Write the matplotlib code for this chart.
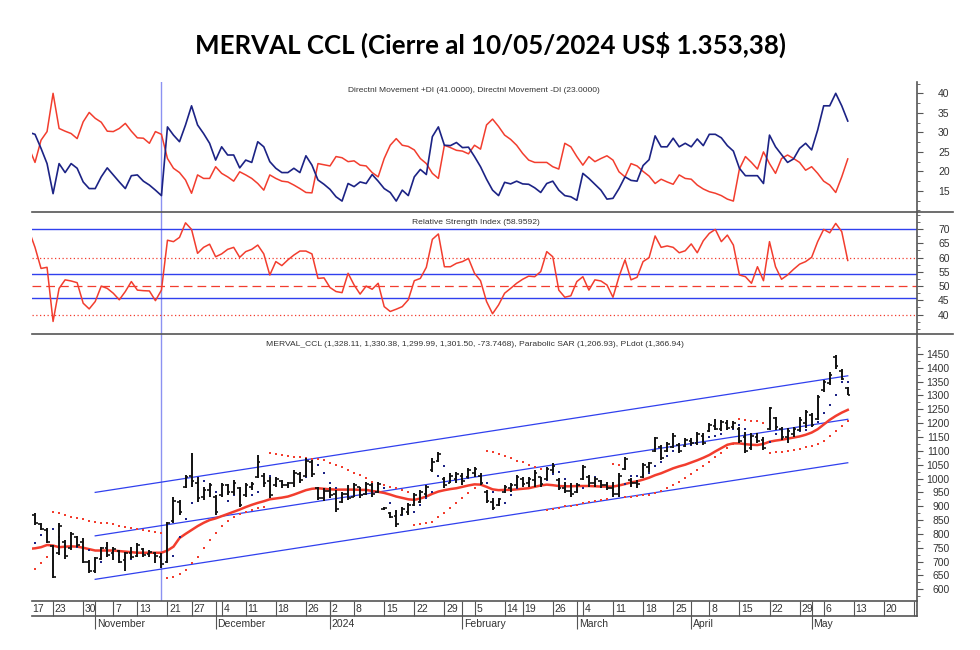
import matplotlib.pyplot as plt
import numpy as np
import pandas as pd
from matplotlib.lines import Line2D

plt.rcParams["font.family"] = ["Liberation Sans Narrow", "Liberation Sans", "DejaVu Sans"]

# ========= Data (one value per trading day, first = 2023-10-17) =========
HOLIDAYS = ["2023-11-06", "2023-11-20", "2023-12-08", "2023-12-25", "2024-01-01",
            "2024-02-12", "2024-02-13", "2024-03-28", "2024-03-29", "2024-04-01",
            "2024-04-02", "2024-05-01"]

DAY_TICKS = ["2023-10-17", "2023-10-23", "2023-10-30", "2023-11-07", "2023-11-13",
             "2023-11-21", "2023-11-27", "2023-12-04", "2023-12-11", "2023-12-18",
             "2023-12-26", "2024-01-02", "2024-01-08", "2024-01-15", "2024-01-22",
             "2024-01-29", "2024-02-05", "2024-02-14", "2024-02-19", "2024-02-26",
             "2024-03-04", "2024-03-11", "2024-03-18", "2024-03-25", "2024-04-08",
             "2024-04-15", "2024-04-22", "2024-04-29", "2024-05-06", "2024-05-13",
             "2024-05-20", "2024-05-27"]
MONTH_TICKS = ["2023-11-01", "2023-12-01", "2024-01-02", "2024-02-01",
               "2024-03-01", "2024-04-03", "2024-05-02"]
MONTH_LABELS = ["November", "December", "2024", "February", "March", "April", "May"]

OPEN = [
    880,
    870, 836, 815, 755, 730, 770, 750, 790, 770, 700,
    665, 710, 750, 730, 740, 705, 730, 720, 745, 728,
    730, 718, 700, 845, 915, 970, 1010, 985, 935, 960,
    935, 940, 975, 950, 965, 940, 970, 1005, 1010, 990,
    975, 990, 975, 985, 1015, 1010, 1060, 965, 930, 955,
    945, 915, 945, 935, 970, 945, 975, 950, 890, 875,
    865, 870, 880, 905, 915, 945, 1030, 1065, 1000, 985,
    1000, 1010, 1005, 1020, 1010, 950, 915, 905, 950, 965,
    975, 1000, 985, 995, 1005, 1000, 1030, 995, 965, 955,
    950, 1000, 1005, 985, 990, 975, 965, 945, 1035, 995,
    985, 1005, 1040, 1100, 1115, 1100, 1115, 1120, 1118, 1135,
    1130, 1155, 1172, 1190, 1178, 1200, 1185, 1180, 1150, 1110,
    1150, 1140, 1180, 1220, 1180, 1150, 1160, 1175, 1200, 1230,
    1215, 1318, 1345, 1440, 1390, 1328.11,
]
HIGH = [
    890,
    877, 838, 820, 760, 838, 778, 808, 793, 784, 706,
    718, 754, 772, 754, 742, 736, 754, 768, 748, 742,
    736, 730, 844, 935, 922, 1013, 1091, 1007, 971, 983,
    941, 983, 980, 995, 971, 983, 989, 1085, 1019, 1007,
    1007, 995, 989, 1031, 1025, 1073, 1067, 971, 965, 971,
    959, 953, 977, 983, 971, 989, 983, 989, 898, 880,
    886, 898, 911, 947, 959, 977, 1073, 1097, 1007, 1019,
    1025, 1019, 1037, 1043, 1019, 959, 929, 929, 977, 983,
    1013, 1007, 1007, 1031, 1007, 1043, 1055, 1001, 989, 983,
    983, 1049, 1013, 1007, 995, 989, 989, 1019, 1079, 1001,
    995, 1055, 1061, 1151, 1121, 1133, 1163, 1127, 1145, 1145,
    1169, 1163, 1199, 1214, 1212, 1212, 1209, 1187, 1169, 1163,
    1163, 1151, 1260, 1224, 1187, 1181, 1187, 1221, 1248, 1236,
    1302, 1356, 1386, 1446, 1395, 1330.38,
]
LOW = [
    860,
    832, 814, 766, 640, 724, 708, 742, 754, 694, 658,
    658, 706, 718, 706, 694, 667, 708, 718, 718, 718,
    694, 676, 694, 838, 868, 965, 971, 917, 923, 935,
    868, 935, 941, 941, 898, 935, 959, 1001, 971, 929,
    971, 965, 965, 971, 983, 1007, 1007, 923, 920, 929,
    880, 911, 923, 935, 929, 941, 935, 947, 886, 856,
    826, 868, 868, 899, 911, 935, 1025, 1061, 965, 983,
    983, 977, 1001, 1007, 977, 911, 887, 899, 947, 953,
    965, 971, 971, 971, 971, 995, 1019, 959, 947, 935,
    947, 995, 971, 971, 965, 959, 935, 935, 1031, 971,
    965, 1001, 1025, 1097, 1067, 1097, 1109, 1091, 1115, 1121,
    1121, 1121, 1169, 1175, 1170, 1175, 1178, 1127, 1091, 1103,
    1127, 1103, 1175, 1175, 1139, 1127, 1151, 1170, 1181, 1187,
    1212, 1314, 1338, 1395, 1356, 1299.99,
]
CLOSE = [
    872,
    840, 818, 770, 645, 830, 720, 800, 760, 700, 665,
    712, 748, 725, 745, 700, 730, 715, 760, 725, 735,
    720, 690, 840, 920, 880, 1005, 990, 930, 960, 975,
    880, 978, 950, 985, 905, 975, 980, 1060, 985, 940,
    1000, 975, 985, 1020, 995, 1065, 1015, 930, 955, 940,
    890, 945, 930, 975, 940, 980, 945, 980, 892, 860,
    835, 890, 905, 940, 950, 970, 1060, 1090, 975, 1010,
    1015, 990, 1030, 1035, 985, 920, 895, 925, 970, 975,
    1005, 980, 1000, 1020, 980, 1035, 1045, 965, 955, 945,
    975, 1040, 985, 1000, 975, 965, 945, 1010, 1070, 985,
    980, 1050, 1055, 1145, 1075, 1125, 1155, 1100, 1140, 1128,
    1160, 1130, 1192, 1180, 1205, 1182, 1200, 1135, 1100, 1155,
    1135, 1110, 1255, 1185, 1150, 1170, 1180, 1210, 1240, 1195,
    1295, 1350, 1375, 1405, 1360, 1301.50,
]
PSAR = [
    660,
    672, 694, 718, 880, 874, 868, 862, 856, 853, 848,
    844, 841, 838, 835, 830, 826, 823, 818, 814, 811,
    807, 805, 640, 643, 655, 670, 694, 718, 748, 778,
    802, 829, 848, 862, 872, 880, 886, 892, 897, 1094,
    1089, 1085, 1082, 1079, 1077, 1074, 1072, 1070, 1067, 1055,
    1049, 1041, 1031, 1021, 1012, 1001, 989, 980, 977, 971,
    965, 959, 953, 832, 836, 841, 844, 862, 874, 893,
    911, 929, 947, 965, 977, 1100, 1095, 1088, 1082, 1073,
    1065, 1058, 1049, 1041, 1033, 887, 890, 895, 899, 902,
    906, 911, 914, 919, 923, 927, 1051, 1049, 935, 935,
    937, 940, 942, 947, 955, 965, 977, 989, 1001, 1017,
    1031, 1045, 1061, 1077, 1091, 1109, 1124, 1214, 1212, 1209,
    1206, 1202, 1094, 1095, 1097, 1101, 1103, 1108, 1113, 1118,
    1125, 1137, 1154, 1173, 1188, 1209,
]
PLDOT = [
    800,
    766, 795, 812, 818, 790, 760, 748, 752, 770, 742,
    704, 700, 720, 735, 725, 716, 710, 722, 726, 730,
    728, 722, 710, 720, 790, 855, 912, 960, 990, 968,
    950, 940, 920, 940, 955, 955, 940, 950, 985, 1010,
    1000, 985, 978, 978, 990, 1005, 1030, 1050, 1020, 985,
    965, 941, 940, 953, 959, 960, 970, 965, 965, 911,
    880, 870, 875, 880, 905, 930, 950, 1010, 1045, 1010,
    1005, 1000, 1003, 1015, 1010, 985, 950, 915, 912, 940,
    965, 985, 988, 992, 990, 995, 1015, 1025, 1000, 975,
    960, 965, 990, 1005, 990, 980, 975, 970, 980, 1010,
    1010, 1013, 1020, 1045, 1060, 1080, 1100, 1108, 1120, 1120,
    1130, 1138, 1150, 1155, 1160, 1178, 1180, 1195, 1180, 1150,
    1138, 1138, 1132, 1160, 1170, 1176, 1175, 1170, 1175, 1195,
    1205, 1236, 1266, 1302, 1348, 1350,
]
MOV_AVG = [
    746,
    748, 752, 760, 758, 752, 754, 755, 754, 750, 745,
    740, 740, 740, 740, 738, 736, 734, 732, 732, 732,
    732, 732, 740, 754, 785, 800, 814, 828, 840, 850,
    856, 864, 872, 880, 888, 897, 905, 912, 918, 925,
    928, 931, 935, 942, 950, 958, 963, 965, 963, 961,
    960, 960, 960, 960, 959, 959, 955, 952, 948, 942,
    935, 930, 925, 923, 928, 935, 945, 953, 958, 962,
    965, 970, 975, 979, 978, 970, 961, 958, 959, 959,
    961, 963, 965, 970, 975, 978, 976, 973, 972, 972,
    973, 973, 973, 972, 971, 971, 971, 975, 980, 986,
    990, 996, 1003, 1012, 1019, 1028, 1037, 1044, 1050, 1058,
    1066, 1075, 1085, 1098, 1110, 1122, 1127, 1127, 1124, 1122,
    1121, 1125, 1133, 1137, 1140, 1144, 1148, 1152, 1158, 1166,
    1178, 1195, 1212, 1226, 1238, 1248,
]
PLUS_DI = [
    30.0,
    29.5, 25.9, 22.0, 14.3, 22.0, 19.7, 22.0, 20.8, 17.3, 15.6,
    15.6, 18.6, 20.9, 19.1, 17.3, 15.6, 18.9, 19.1, 17.5, 16.5,
    15.2, 13.8, 31.4, 29.3, 27.6, 31.9, 36.8, 31.9, 29.7, 27.2,
    22.9, 26.3, 24.2, 24.2, 20.9, 22.9, 22.3, 27.6, 26.3, 22.5,
    20.8, 19.7, 19.7, 20.8, 19.7, 24.0, 21.6, 17.8, 16.7, 15.4,
    13.5, 12.4, 16.9, 16.1, 17.3, 16.9, 19.2, 17.5, 15.6, 14.6,
    12.4, 15.2, 13.8, 18.6, 20.5, 19.2, 28.9, 31.4, 26.7, 26.6,
    27.4, 26.1, 26.2, 23.8, 21.2, 18.0, 15.2, 13.8, 17.2, 16.8,
    17.5, 16.8, 16.7, 15.8, 14.6, 16.9, 17.5, 15.2, 13.8, 13.5,
    12.6, 19.5, 18.2, 16.7, 15.2, 12.9, 13.1, 15.6, 18.6, 17.7,
    17.5, 21.5, 23.0, 29.1, 26.3, 26.3, 28.5, 26.3, 27.2, 26.3,
    28.3, 26.6, 29.5, 29.5, 28.6, 26.6, 25.2, 20.8, 18.9, 18.9,
    18.9, 16.9, 29.3, 26.3, 24.3, 22.3, 23.2, 25.9, 27.2, 25.5,
    30.6, 36.8, 36.8, 40.0, 36.8, 32.9,
]
MINUS_DI = [
    26.0,
    22.3, 28.0, 30.2, 40.0, 31.0, 30.3, 29.7, 28.4, 32.7, 35.1,
    33.6, 32.6, 30.3, 30.2, 31.0, 32.3, 30.3, 28.6, 28.5, 27.2,
    30.2, 29.5, 23.3, 20.8, 19.7, 17.8, 14.4, 19.1, 18.2, 18.2,
    21.2, 19.5, 18.6, 17.5, 19.9, 19.1, 18.2, 16.9, 15.2, 19.1,
    18.2, 17.5, 17.3, 16.5, 15.6, 14.6, 14.5, 22.0, 21.7, 21.4,
    23.8, 23.5, 22.5, 22.7, 21.6, 21.4, 19.7, 18.6, 23.3, 26.7,
    28.4, 26.7, 26.4, 25.5, 23.3, 22.0, 19.5, 18.2, 26.7, 26.1,
    25.4, 25.2, 24.5, 26.7, 25.7, 31.9, 33.4, 31.5, 29.3, 28.2,
    26.7, 24.6, 22.9, 22.3, 22.3, 22.3, 21.2, 20.6, 27.2, 26.3,
    23.8, 21.6, 23.8, 22.5, 23.3, 24.0, 22.9, 19.9, 18.6, 22.0,
    21.4, 20.0, 18.8, 16.9, 18.0, 17.3, 16.7, 19.1, 18.2, 18.0,
    16.5, 15.5, 14.8, 14.4, 13.8, 12.9, 12.4, 20.6, 23.8, 22.3,
    20.6, 25.0, 22.0, 19.5, 23.3, 24.2, 23.3, 22.3, 20.3, 21.2,
    19.5, 17.5, 16.5, 14.6, 18.6, 23.2,
]
RSI = [
    69.5,
    63.6, 56.2, 56.6, 37.6, 49.2, 52.2, 51.8, 51.2, 44.0, 42.0,
    44.6, 50.0, 49.2, 47.5, 45.2, 48.1, 51.6, 48.6, 48.4, 48.3,
    44.9, 48.6, 66.1, 65.6, 67.1, 72.2, 69.9, 61.5, 63.6, 64.7,
    60.3, 61.3, 62.9, 63.6, 60.1, 62.1, 62.9, 64.4, 61.3, 53.9,
    58.6, 57.2, 59.2, 60.9, 62.3, 62.3, 61.3, 52.7, 52.9, 49.5,
    48.1, 47.7, 54.5, 50.4, 47.2, 50.0, 48.9, 51.0, 42.8, 41.1,
    41.9, 42.8, 45.2, 51.9, 52.7, 56.6, 66.4, 68.3, 56.8, 56.8,
    58.0, 58.6, 59.7, 54.5, 51.9, 44.6, 40.3, 43.4, 47.5, 49.2,
    51.0, 52.4, 53.5, 53.3, 55.1, 62.1, 60.3, 48.6, 46.1, 46.6,
    51.6, 53.3, 48.6, 52.2, 51.8, 50.4, 46.1, 53.3, 59.2, 52.2,
    53.1, 58.6, 60.0, 67.6, 63.6, 64.1, 63.6, 61.7, 62.4, 64.8,
    61.7, 65.9, 68.5, 69.9, 65.6, 67.9, 64.4, 53.9, 53.3, 51.0,
    56.8, 51.9, 65.6, 56.8, 52.4, 53.9, 55.9, 57.7, 58.6, 60.1,
    65.6, 69.9, 68.7, 72.0, 69.1, 59.0,
]

# regression channel (start/end trading-day index, mid value, half width)
CHANNEL_IDX = [11, 136]
CHANNEL_MID = [793, 1214]
CHANNEL_HALF = 157

RSI_BLUE_LEVELS = [70, 54.3, 46]
RSI_DOTTED_LEVELS = [60, 40]
RSI_DASHED_LEVEL = 50
VLINE_DATE = "2023-11-17"

TITLE = "MERVAL CCL (Cierre al 10/05/2024 US$ 1.353,38)"
DMI_LABEL = "Directnl Movement +DI (41.0000), Directnl Movement -DI (23.0000)"
RSI_LABEL = "Relative Strength Index (58.9592)"
PRICE_LABEL = ("MERVAL_CCL (1,328.11, 1,330.38, 1,299.99, 1,301.50, -73.7468), "
               "Parabolic SAR (1,206.93), PLdot (1,366.94)")

# ========= Style =========
RED = "#f23d2e"
NAVY = "#1c2385"
BLUE = "#3040ee"
VBLUE = "#8c92f2"
FRAME = "#555555"
TXT = "#333333"
FIG_W, FIG_H = 980, 650
X_LEFT, X_AXIS, X_FAR = 32, 917, 953
XLIM = (0.5, 147.5)


def fx(px):
    return px / FIG_W


def fy(py):
    return 1 - py / FIG_H


def add_panel(fig, top, bottom, ylim, ticks, minor):
    ax = fig.add_axes([fx(X_LEFT), fy(bottom), fx(X_AXIS) - fx(X_LEFT), (bottom - top) / FIG_H])
    ax.set_xlim(XLIM)
    ax.set_ylim(ylim)
    for s in ax.spines.values():
        s.set_visible(False)
    ax.set_xticks([])
    ax.yaxis.tick_right()
    ax.set_yticks(ticks, [str(t) for t in ticks])
    ax.set_yticks(minor, minor=True)
    ax.tick_params(axis="y", which="major", direction="out", length=4, width=0.8,
                   color=FRAME, labelsize=7.5, labelcolor=TXT, pad=19.5)
    ax.tick_params(axis="y", which="minor", direction="out", length=2, width=0.6, color=FRAME)
    for t in ax.yaxis.get_major_ticks():
        t.label2.set_horizontalalignment("right")
    return ax


days = pd.bdate_range("2023-10-17", "2024-05-31")
days = days[~days.isin(pd.to_datetime(HOLIDAYS))]
pos = {d: i for i, d in enumerate(days)}
x = np.arange(len(CLOSE))

fig = plt.figure(figsize=(FIG_W / 100, FIG_H / 100), dpi=100)

# --- DMI panel ---
ax1 = add_panel(fig, 82, 212, (9.6, 42.9), list(range(15, 45, 5)), np.arange(10, 43, 2.5))
ax1.plot(x, MINUS_DI, color=RED, lw=1.1)
ax1.plot(x, PLUS_DI, color=NAVY, lw=1.2)

# --- RSI panel ---
ax2 = add_panel(fig, 212, 334, (33.2, 76.0), list(range(40, 75, 5)), np.arange(35, 76, 2.5))
for lv in RSI_BLUE_LEVELS:
    ax2.axhline(lv, color=BLUE, lw=1.0)
for lv in RSI_DOTTED_LEVELS:
    ax2.axhline(lv, color=RED, lw=0.9, ls=(0, (1, 2)))
ax2.axhline(RSI_DASHED_LEVEL, color=RED, lw=0.9, ls=(0, (7, 4)))
ax2.plot(x, RSI, color=RED, lw=1.1)

# --- price panel ---
ax3 = add_panel(fig, 334, 601, (557.7, 1522), list(range(600, 1500, 50)), np.arange(575, 1500, 25))
lo = [CHANNEL_MID[0] - CHANNEL_HALF, CHANNEL_MID[1] - CHANNEL_HALF]
hi = [CHANNEL_MID[0] + CHANNEL_HALF, CHANNEL_MID[1] + CHANNEL_HALF]
for line in (lo, CHANNEL_MID, hi):
    ax3.plot(CHANNEL_IDX, line, color=BLUE, lw=0.9, zorder=1)
ax3.plot(x, MOV_AVG, color=RED, lw=1.8, zorder=2)
ax3.scatter(x, PSAR, s=2.5, marker="s", color=RED, lw=0, zorder=3)
ax3.scatter(x, PLDOT, s=2.5, marker="s", color=NAVY, lw=0, zorder=3)
ax3.vlines(x, LOW, HIGH, color="#111111", lw=1.4, zorder=4)
ax3.hlines(OPEN, x - 0.45, x, color="#111111", lw=1.2, zorder=4)
ax3.hlines(CLOSE, x, x + 0.45, color="#111111", lw=1.2, zorder=4)

vx = pos[pd.Timestamp(VLINE_DATE)]
for ax in (ax1, ax2, ax3):
    ax.axvline(vx, color=VBLUE, lw=1.0, zorder=0)

# --- date strip (y in pixels below 601) ---
axd = fig.add_axes([fx(X_LEFT), fy(632), fx(X_AXIS) - fx(X_LEFT), 31 / FIG_H])
axd.set_xlim(XLIM)
axd.set_ylim(31, 0)
axd.axis("off")
for d in DAY_TICKS:
    i = pos[pd.Timestamp(d)]
    axd.vlines(i, 0, 15, color=FRAME, lw=0.8)
    axd.text(max(i + 0.3, XLIM[0] + 0.1), 8, str(pd.Timestamp(d).day), ha="left", va="center",
             fontsize=7.5, color=TXT, clip_on=True)
for d, lab in zip(MONTH_TICKS, MONTH_LABELS):
    i = pos[pd.Timestamp(d)]
    axd.vlines(i, 0, 28, color=FRAME, lw=0.8)
    axd.text(i + 0.3, 23, lab, ha="left", va="center", fontsize=7.5, color=TXT, clip_on=True)

# --- frame lines ---
def hline(py, x0, x1):
    fig.add_artist(Line2D([fx(x0), fx(x1)], [fy(py), fy(py)], color=FRAME, lw=1.2))


hline(212, X_LEFT, X_FAR)
hline(334, X_LEFT, X_FAR)
hline(601, X_LEFT, X_AXIS)
hline(616, X_LEFT, X_AXIS)
fig.add_artist(Line2D([fx(X_AXIS), fx(X_AXIS)], [fy(82), fy(616)], color=FRAME, lw=1.2))

# --- texts ---
fig.text(0.5, fy(45), TITLE, ha="center", va="center", fontsize=18.6, fontweight="bold",
         family=["Lato", "DejaVu Sans"], color="#000000")
fig.text(fx(474), fy(91), DMI_LABEL, ha="center", va="center", fontsize=6.0, color=TXT)
fig.text(fx(476), fy(222), RSI_LABEL, ha="center", va="center", fontsize=6.1, color=TXT)
fig.text(fx(475), fy(344), PRICE_LABEL, ha="center", va="center", fontsize=6.1, color=TXT)

fig.savefig("out.png", dpi=100)
